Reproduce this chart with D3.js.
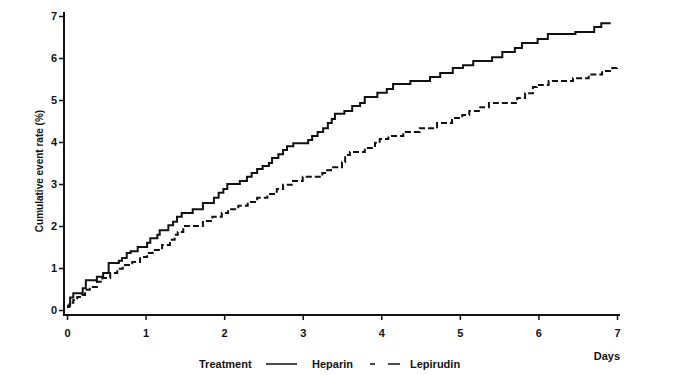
<!DOCTYPE html>
<html><head><meta charset="utf-8">
<script src="https://cdn.jsdelivr.net/npm/d3@7/dist/d3.min.js"></script>
<style>body{margin:0;background:#fff}svg{display:block}text{font-family:"Liberation Sans",Arial,sans-serif;font-weight:bold;fill:#111}</style>
</head><body><svg id="c" width="685" height="375"></svg>
<script>
const xTicks = [0,1,2,3,4,5,6,7];
const yTicks = [0,1,2,3,4,5,6,7];
const heparinDays = [0,0.04,0.08,0.2,0.24,0.38,0.46,0.53,0.66,0.70,0.76,0.81,0.90,1.02,1.06,1.15,1.18,1.29,1.35,1.40,1.46,1.60,1.73,1.87,1.93,1.99,2.04,2.20,2.29,2.35,2.42,2.49,2.57,2.61,2.69,2.75,2.80,2.88,3.07,3.12,3.19,3.26,3.32,3.37,3.41,3.53,3.63,3.73,3.79,3.95,4.07,4.15,4.37,4.62,4.75,4.91,5.04,5.17,5.41,5.54,5.70,5.79,5.99,6.12,6.47,6.71,6.80,6.92];
const heparinRate = [0.1,0.3,0.4,0.52,0.71,0.79,0.88,1.12,1.17,1.24,1.36,1.4,1.5,1.6,1.71,1.79,1.9,2.02,2.1,2.22,2.31,2.4,2.55,2.67,2.79,2.88,3.0,3.07,3.17,3.26,3.36,3.43,3.5,3.62,3.71,3.81,3.9,3.97,4.05,4.14,4.24,4.33,4.45,4.55,4.67,4.74,4.86,4.93,5.07,5.17,5.26,5.38,5.45,5.55,5.64,5.76,5.83,5.93,6.02,6.14,6.24,6.36,6.45,6.57,6.62,6.74,6.83,6.83];
const lepirudinDays = [0,0.03,0.08,0.13,0.19,0.23,0.29,0.38,0.45,0.55,0.64,0.71,0.83,0.93,1.02,1.09,1.21,1.31,1.37,1.41,1.48,1.73,1.85,1.97,2.05,2.18,2.30,2.42,2.55,2.67,2.75,2.86,3.00,3.25,3.31,3.36,3.50,3.54,3.60,3.79,3.92,3.98,4.09,4.28,4.49,4.71,4.90,5.03,5.12,5.26,5.37,5.73,5.83,5.93,5.98,6.13,6.44,6.64,6.81,6.94,7.0];
const lepirudinRate = [0.07,0.17,0.24,0.31,0.36,0.48,0.55,0.67,0.76,0.88,0.98,1.07,1.14,1.26,1.36,1.43,1.55,1.67,1.79,1.86,2.0,2.12,2.22,2.31,2.4,2.48,2.57,2.67,2.76,2.88,2.98,3.07,3.17,3.26,3.33,3.4,3.52,3.69,3.76,3.86,3.98,4.07,4.14,4.24,4.33,4.45,4.57,4.64,4.74,4.83,4.93,5.05,5.16,5.31,5.36,5.45,5.52,5.61,5.69,5.76,5.79];
const seriesNames = ["Heparin","Lepirudin"];

const svg = d3.select("#c");
const x = d3.scaleLinear().domain([0,7]).range([67,617]);
const y = d3.scaleLinear().domain([0,7]).range([310,16]);
const axisY = 315;

// axes
const gx = svg.append("g").attr("transform",`translate(0,${axisY})`)
  .call(d3.axisBottom(x).tickValues(xTicks).tickSize(5).tickPadding(9).tickFormat(d3.format("d")));
gx.select(".domain").attr("d",`M63,0H620`).attr("stroke","#111").attr("stroke-width",2);
gx.selectAll(".tick line").attr("stroke","#111").attr("stroke-width",1.5);
gx.selectAll(".tick text").style("font-size","11px");

const gy = svg.append("g").attr("transform",`translate(64,0)`)
  .call(d3.axisLeft(y).tickValues(yTicks).tickSize(5).tickPadding(2).tickFormat(d3.format("d")));
gy.select(".domain").attr("d",`M0,12V316`).attr("stroke","#111").attr("stroke-width",2);
gy.selectAll(".tick line").attr("stroke","#111").attr("stroke-width",1.5);
gy.selectAll(".tick text").style("font-size","11px");

svg.append("text").attr("transform","translate(43,171) rotate(-90)")
  .attr("text-anchor","middle").style("font-size","10px").text("Cumulative event rate (%)");
svg.append("text").attr("x",620).attr("y",360).attr("text-anchor","end").style("font-size","11px").text("Days");

const line = d3.line().x(d=>x(d[0])).y(d=>y(d[1])).curve(d3.curveStepAfter);
const hep = heparinDays.map((d,i)=>[d,heparinRate[i]]);
const lep = lepirudinDays.map((d,i)=>[d,lepirudinRate[i]]);
svg.append("path").attr("d",line(hep)).attr("fill","none").attr("stroke","#111").attr("stroke-width",2);
svg.append("path").attr("d",line(lep)).attr("fill","none").attr("stroke","#111").attr("stroke-width",2).attr("stroke-dasharray","6,3");

// legend
const ly = 364;
svg.append("text").attr("x",199).attr("y",368).style("font-size","11px").text("Treatment");
svg.append("line").attr("x1",266).attr("x2",297).attr("y1",ly).attr("y2",ly).attr("stroke","#111").attr("stroke-width",1.5);
svg.append("text").attr("x",312).attr("y",368).style("font-size","11px").text(seriesNames[0]);
svg.append("line").attr("x1",370).attr("x2",400).attr("y1",ly).attr("y2",ly).attr("stroke","#111").attr("stroke-width",1.5).attr("stroke-dasharray","5,13,12");
svg.append("text").attr("x",410).attr("y",368).style("font-size","11px").text(seriesNames[1]);
</script></body></html>
